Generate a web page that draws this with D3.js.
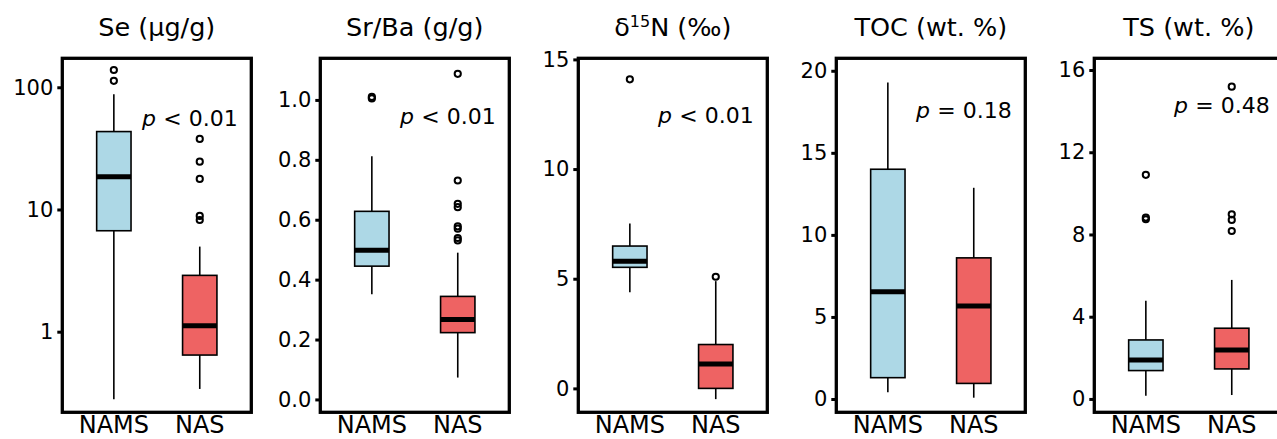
<!DOCTYPE html>
<html>
<head>
<meta charset="utf-8">
<script src="https://cdn.jsdelivr.net/npm/d3@7"></script>
<style>
  html, body { margin: 0; padding: 0; background: #fff; }
  svg { display: block; font-family: "DejaVu Sans", sans-serif; }
</style>
</head>
<body>
<div id="chart"></div>
<script>
// groups and colours
const groups = ['NAMS', 'NAS'];
const groupColors = ['#ADD8E6', '#EE6363'];

// box stats: [lower whisker, q1, median, q3, upper whisker]
const seNAMS = [0.28, 6.7, 18.5, 43.4, 87.7];
const seNAS = [0.34, 0.644, 1.12, 2.89, 4.97];
const seOutNAMS = [113, 138.5];
const seOutNAS = [8.2, 8.85, 17.8, 24.6, 37.8];

const srbaNAMS = [0.351, 0.445, 0.498, 0.628, 0.812];
const srbaNAS = [0.073, 0.223, 0.267, 0.344, 0.49];
const srbaOutNAMS = [1.005, 1.01];
const srbaOutNAS = [0.531, 0.539, 0.57, 0.578, 0.642, 0.653, 0.731, 1.087];

const d15nNAMS = [4.38, 5.52, 5.8, 6.49, 7.52];
const d15nNAS = [-0.49, 0.0, 1.11, 2.0, 4.89];
const d15nOutNAMS = [14.09];
const d15nOutNAS = [5.09];

const tocNAMS = [0.41, 1.3, 6.54, 14.0, 19.29];
const tocNAS = [0.08, 0.95, 5.66, 8.6, 12.87];
const tocOutNAMS = [];
const tocOutNAS = [];

const tsNAMS = [0.16, 1.38, 1.9, 2.87, 4.78];
const tsNAS = [0.19, 1.46, 2.38, 3.44, 5.79];
const tsOutNAMS = [8.74, 8.82, 10.9];
const tsOutNAS = [8.17, 8.71, 8.98, 15.19];

// axis domains and ticks
const seDomain = [0.219, 172.6];
const seTicks = [1, 10, 100];
const srbaDomain = [-0.043, 1.139];
const srbaTicks = [0.0, 0.2, 0.4, 0.6, 0.8, 1.0];
const d15nDomain = [-1.09, 15.05];
const d15nTicks = [0, 5, 10, 15];
const tocDomain = [-0.81, 20.76];
const tocTicks = [0, 5, 10, 15, 20];
const tsDomain = [-0.65, 16.57];
const tsTicks = [0, 4, 8, 12, 16];

// p-value labels and their y position (data units)
const pLabels = [['<', '0.01'], ['<', '0.01'], ['<', '0.01'], ['=', '0.18'], ['=', '0.48']];
const pLabelY = [48.2, 0.921, 12.11, 17.1, 13.9];

const panels = [
  { title: 'se', log: true, domain: seDomain, ticks: seTicks, fmt: d3.format('d'),
    stats: [seNAMS, seNAS], out: [seOutNAMS, seOutNAS] },
  { title: 'srba', domain: srbaDomain, ticks: srbaTicks, fmt: d3.format('.1f'),
    stats: [srbaNAMS, srbaNAS], out: [srbaOutNAMS, srbaOutNAS] },
  { title: 'd15n', domain: d15nDomain, ticks: d15nTicks, fmt: d3.format('d'),
    stats: [d15nNAMS, d15nNAS], out: [d15nOutNAMS, d15nOutNAS] },
  { title: 'toc', domain: tocDomain, ticks: tocTicks, fmt: d3.format('d'),
    stats: [tocNAMS, tocNAS], out: [tocOutNAMS, tocOutNAS] },
  { title: 'ts', domain: tsDomain, ticks: tsTicks, fmt: d3.format('d'),
    stats: [tsNAMS, tsNAS], out: [tsOutNAMS, tsOutNAS] }
];

const width = 1277, height = 439;
const panelW = 189, panelTop = 58.3, panelBottom = 412.3, panelStep = 258, firstLeft = 62.3;

const svg = d3.select('#chart').append('svg')
  .attr('width', width).attr('height', height);

function drawTitle(t, key) {
  if (key === 'se') t.text('Se (\u03BCg/g)');
  else if (key === 'srba') t.text('Sr/Ba (g/g)');
  else if (key === 'toc') t.text('TOC (wt. %)');
  else if (key === 'ts') t.text('TS (wt. %)');
  else {
    t.append('tspan').text('\u03B4');
    t.append('tspan').attr('dy', -9).attr('font-size', 16).text('15');
    t.append('tspan').attr('dy', 9).text('N (\u2030)');
  }
}

panels.forEach((p, i) => {
  const left = firstLeft + i * panelStep;
  const g = svg.append('g');

  const x = d3.scaleLinear().domain([0.4, 2.6]).range([left, left + panelW]);
  const y = (p.log ? d3.scaleLog() : d3.scaleLinear())
    .domain(p.domain).range([panelBottom, panelTop]);

  // y axis
  const axis = g.append('g')
    .attr('transform', `translate(${left},0)`)
    .call(d3.axisLeft(y).tickValues(p.ticks).tickFormat(p.fmt).tickSize(5).tickPadding(4));
  axis.select('.domain').remove();
  axis.selectAll('.tick line').attr('stroke', '#000').attr('stroke-width', 3);
  axis.selectAll('.tick text').attr('font-size', 21).attr('fill', '#000')
    .attr('font-family', '"DejaVu Sans", sans-serif');

  // boxes
  p.stats.forEach((s, k) => {
    const cx = x(k + 1), bw = x(1.2) - x(1);
    g.append('line')
      .attr('x1', cx).attr('x2', cx).attr('y1', y(s[0])).attr('y2', y(s[4]))
      .attr('stroke', '#000').attr('stroke-width', 1.6);
    g.append('rect')
      .attr('x', cx - bw).attr('width', 2 * bw)
      .attr('y', y(s[3])).attr('height', y(s[1]) - y(s[3]))
      .attr('fill', groupColors[k]).attr('stroke', '#000').attr('stroke-width', 1.6);
    g.append('line')
      .attr('x1', cx - bw).attr('x2', cx + bw).attr('y1', y(s[2])).attr('y2', y(s[2]))
      .attr('stroke', '#000').attr('stroke-width', 5);
    g.selectAll(null).data(p.out[k]).join('circle')
      .attr('cx', cx).attr('cy', d => y(d)).attr('r', 3.1)
      .attr('fill', 'none').attr('stroke', '#000').attr('stroke-width', 2);
  });

  // frame
  g.append('rect')
    .attr('x', left).attr('y', panelTop)
    .attr('width', panelW).attr('height', panelBottom - panelTop)
    .attr('fill', 'none').attr('stroke', '#000').attr('stroke-width', 3.3);

  // category labels
  g.selectAll(null).data(groups).join('text')
    .attr('x', (d, k) => x(k + 1)).attr('y', 433)
    .attr('text-anchor', 'middle').attr('font-size', 24).text(d => d);

  // title
  const t = g.append('text')
    .attr('x', left + panelW / 2).attr('y', 36)
    .attr('text-anchor', 'middle').attr('font-size', 25.5);
  drawTitle(t, p.title);

  // p-value
  const pt = g.append('text')
    .attr('x', left + panelW - 13.5).attr('y', y(pLabelY[i]))
    .attr('text-anchor', 'end').attr('font-size', 22);
  pt.append('tspan').attr('font-style', 'italic').text('p');
  pt.append('tspan').text('\u2004' + pLabels[i][0] + '\u2004' + pLabels[i][1]);
});
</script>
</body>
</html>
